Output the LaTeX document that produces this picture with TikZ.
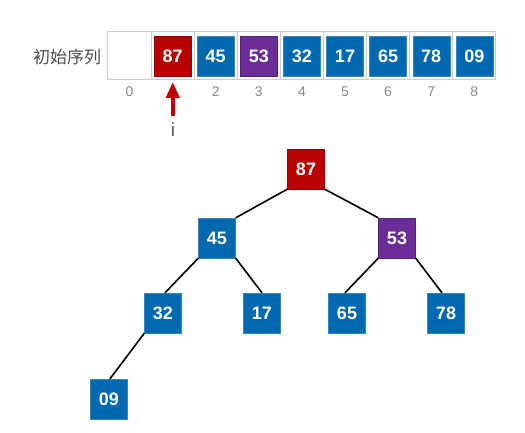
\documentclass[tikz,border=0pt]{standalone}
\usepackage{fontspec}
\setmainfont{Liberation Sans}
\newfontfamily\cjk{Noto Sans CJK SC}
\usetikzlibrary{arrows.meta}
\definecolor{cred}{HTML}{B80000}
\definecolor{cblue}{HTML}{0068AE}
\definecolor{cpurple}{HTML}{6A2C96}
\definecolor{cgrid}{HTML}{CCCCCC}
\definecolor{cidx}{HTML}{8A8A8A}
\begin{document}
\begin{tikzpicture}[x=1pt,y=-1pt,
  cell/.style={draw=cgrid,line width=1pt,minimum width=43.1pt,minimum height=48pt,inner sep=0pt},
  key/.style={minimum width=37pt,minimum height=40pt,inner sep=0pt,text=white,font=\fontsize{18}{18}\selectfont\bfseries},
  bluek/.style={key,fill=cblue,draw=cblue!80!white},
  redk/.style={key,fill=cred,draw=cred!80!black},
  purk/.style={key,fill=cpurple,draw=cpurple!80!black},
  idx/.style={text=cidx,font=\fontsize{14}{14}\selectfont},
  edge/.style={line width=1.6pt,black}]
\useasboundingbox (0,0) rectangle (525,433);
\fill[white] (0,0) rectangle (525,433);
% label
\node[text=black!70,font=\cjk\fontsize{17}{17}\selectfont] (lab) at (67,57) {初始序列};
% array cells
\foreach \k in {0,...,8}{
  \node[cell] (c\k) at ({129.5+43.1*\k},56) {};
  \node[idx] (n\k) at ({129.5+43.1*\k},92) {\k};
}
\node[redk] (a1) at (c1) {87};
\node[bluek] (a2) at (c2) {45};
\node[purk] (a3) at (c3) {53};
\node[bluek] (a4) at (c4) {32};
\node[bluek] (a5) at (c5) {17};
\node[bluek] (a6) at (c6) {65};
\node[bluek] (a7) at (c7) {78};
\node[bluek] (a8) at (c8) {09};
% pointer
\coordinate (ptail) at (172.8,116);
\coordinate (phead) at (172.8,82);
\draw[cred,line width=4.5pt,-{Triangle[length=16pt,width=13pt]}] (ptail) -- (phead);
\node[text=black!65,font=\fontsize{19}{19}\selectfont] (iv) at (173,130) {i};
% tree
\node[redk] (t87) at (306,169) {87};
\node[bluek] (t45) at (217,238) {45};
\node[purk] (t53) at (397,238) {53};
\node[bluek] (t32) at (163,313) {32};
\node[bluek] (t17) at (262,313) {17};
\node[bluek] (t65) at (347,313) {65};
\node[bluek] (t78) at (446,313) {78};
\node[bluek] (t09) at (109,399) {09};
\draw[edge] (t87.south west) -- (t45.north east);
\draw[edge] (t87.south east) -- (t53.north west);
\draw[edge] (t45.south west) -- ([xshift=2pt]t32.north);
\draw[edge] (t45.south east) -- (t17.north);
\draw[edge] (t53.south west) -- ([xshift=-2pt]t65.north);
\draw[edge] (t53.south east) -- ([xshift=-4pt]t78.north);
\draw[edge] (t32.south west) -- ([xshift=1pt]t09.north);
\end{tikzpicture}
\end{document}
